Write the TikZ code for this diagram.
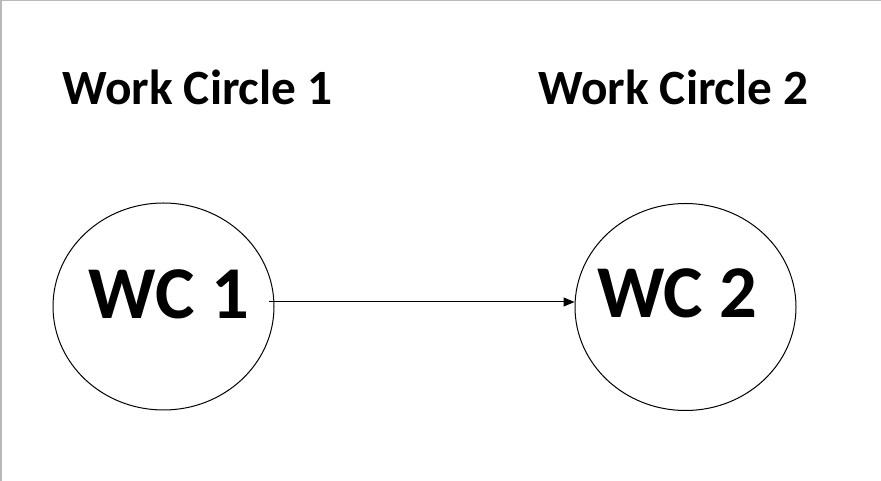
\documentclass[tikz,border=0pt]{standalone}
\usepackage{fontspec}
\setmainfont{Carlito}
\usetikzlibrary{shapes.geometric, arrows.meta, positioning}

\begin{document}
\begin{tikzpicture}[
    x=1pt, y=1pt,
    wcircle/.style={ellipse, draw, line width=1pt, minimum width=221pt, minimum height=207pt, inner sep=0pt},
    heading/.style={font=\fontsize{49.3}{52}\selectfont\bfseries, anchor=base, inner sep=0pt},
    wctext/.style={font=\fontsize{74.5}{78}\selectfont\bfseries, anchor=base, inner sep=0pt},
    arrow/.style={line width=1pt, -{Triangle[length=11pt, width=9pt]}}
]
    \useasboundingbox (0,0) rectangle (881,481);
    % Frame
    \draw[gray!55, line width=1.5pt] (0.75,0) -- (0.75,480.25) -- (881,480.25);

    % Headings
    \node[heading] (head1) at (197.5,376) {Work Circle 1};
    \node[heading] (head2) at (673.5,376) {Work Circle 2};

    % Work circles
    \node[wcircle] (wc1) at (163.5,174.5) {};
    \node[wcircle] (wc2) at (685.5,174) {};
    \node[wctext] (wc1text) at (169,162) {WC 1};
    \node[wctext] (wc2text) at (677.5,163) {WC 2};

    % Arrow
    \draw[arrow] ([shift={(-6,4.5)}]wc1.east) -- ([yshift=5]wc2.west);
\end{tikzpicture}
\end{document}
